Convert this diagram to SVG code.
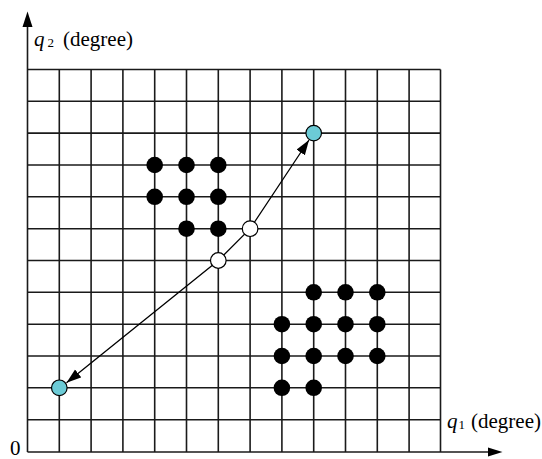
<svg xmlns="http://www.w3.org/2000/svg" width="542" height="459" viewBox="0 0 542 459">
<style>
.grid line{stroke:#1a1a1a;stroke-width:1.6}
.axis{stroke:#1a1a1a;stroke-width:1.6;fill:none}
.lbl{font-family:"Liberation Serif","Times New Roman",serif;font-size:21px;fill:#000}
.sub{font-family:"Liberation Serif","Times New Roman",serif;font-size:13px;fill:#000}
.blk{fill:#000}
.cyan{fill:#6ccbd6;stroke:#000;stroke-width:1.2}
.wht{fill:#fff;stroke:#000;stroke-width:1.2}
.conn{stroke:#000;stroke-width:1.3;fill:none}
</style>
<defs>
<marker id="ah" markerUnits="userSpaceOnUse" markerWidth="16" markerHeight="12" refX="15" refY="5" orient="auto-start-reverse">
<path d="M0,0 L15,5 L0,10 Z" fill="#000"/>
</marker>
</defs>
<rect width="542" height="459" fill="#fff"/>
<g class="grid">
<line x1="27.5" y1="69.5" x2="440.5" y2="69.5"/>
<line x1="27.5" y1="101.3" x2="440.5" y2="101.3"/>
<line x1="27.5" y1="133.1" x2="440.5" y2="133.1"/>
<line x1="27.5" y1="165" x2="440.5" y2="165"/>
<line x1="27.5" y1="196.8" x2="440.5" y2="196.8"/>
<line x1="27.5" y1="228.7" x2="440.5" y2="228.7"/>
<line x1="27.5" y1="260.5" x2="440.5" y2="260.5"/>
<line x1="27.5" y1="292.3" x2="440.5" y2="292.3"/>
<line x1="27.5" y1="324.2" x2="440.5" y2="324.2"/>
<line x1="27.5" y1="356" x2="440.5" y2="356"/>
<line x1="27.5" y1="387.8" x2="440.5" y2="387.8"/>
<line x1="27.5" y1="419.7" x2="440.5" y2="419.7"/>
<line x1="59.3" y1="69.5" x2="59.3" y2="452"/>
<line x1="91.1" y1="69.5" x2="91.1" y2="452"/>
<line x1="122.9" y1="69.5" x2="122.9" y2="452"/>
<line x1="154.7" y1="69.5" x2="154.7" y2="452"/>
<line x1="186.5" y1="69.5" x2="186.5" y2="452"/>
<line x1="218.3" y1="69.5" x2="218.3" y2="452"/>
<line x1="250.1" y1="69.5" x2="250.1" y2="452"/>
<line x1="281.9" y1="69.5" x2="281.9" y2="452"/>
<line x1="313.7" y1="69.5" x2="313.7" y2="452"/>
<line x1="345.5" y1="69.5" x2="345.5" y2="452"/>
<line x1="377.3" y1="69.5" x2="377.3" y2="452"/>
<line x1="409.1" y1="69.5" x2="409.1" y2="452"/>
<line x1="440.5" y1="69.5" x2="440.5" y2="452"/>
</g>
<g id="axes">
<path class="axis" d="M27.5,452 L27.5,26"/>
<path d="M22.5,27 L27.5,11.5 L32.5,27 Z" fill="#000"/>
<path class="axis" d="M27.5,452 L489,452"/>
<path d="M488,447.5 L502.5,452 L488,456.5 Z" fill="#000"/>
</g>
<g id="labels">
<text class="lbl" x="34" y="46" font-style="italic">q</text>
<text class="sub" x="47.5" y="47">2</text>
<text class="lbl" x="63" y="46">(degree)</text>
<text class="lbl" x="447" y="428" font-style="italic">q</text>
<text class="sub" x="458.5" y="429">1</text>
<text class="lbl" x="471" y="428">(degree)</text>
<text class="lbl" x="10" y="455" font-size="16">0</text>
</g>
<g id="connectors">
<path class="conn" d="M66.5,382.8 L218.3,260.5 L250.1,228.7 L309,140" marker-start="url(#ah)" marker-end="url(#ah)"/>
</g>
<g id="obstacle-1">
<circle class="blk" cx="154.7" cy="165" r="8.3"/>
<circle class="blk" cx="186.5" cy="165" r="8.3"/>
<circle class="blk" cx="218.3" cy="165" r="8.3"/>
<circle class="blk" cx="154.7" cy="196.8" r="8.3"/>
<circle class="blk" cx="186.5" cy="196.8" r="8.3"/>
<circle class="blk" cx="218.3" cy="196.8" r="8.3"/>
<circle class="blk" cx="186.5" cy="228.7" r="8.3"/>
<circle class="blk" cx="218.3" cy="228.7" r="8.3"/>
</g>
<g id="obstacle-2">
<circle class="blk" cx="313.7" cy="292.3" r="8.3"/>
<circle class="blk" cx="345.5" cy="292.3" r="8.3"/>
<circle class="blk" cx="377.3" cy="292.3" r="8.3"/>
<circle class="blk" cx="281.9" cy="324.2" r="8.3"/>
<circle class="blk" cx="313.7" cy="324.2" r="8.3"/>
<circle class="blk" cx="345.5" cy="324.2" r="8.3"/>
<circle class="blk" cx="377.3" cy="324.2" r="8.3"/>
<circle class="blk" cx="281.9" cy="356" r="8.3"/>
<circle class="blk" cx="313.7" cy="356" r="8.3"/>
<circle class="blk" cx="345.5" cy="356" r="8.3"/>
<circle class="blk" cx="377.3" cy="356" r="8.3"/>
<circle class="blk" cx="281.9" cy="387.8" r="8.3"/>
<circle class="blk" cx="313.7" cy="387.8" r="8.3"/>
</g>
<g id="start"><circle class="cyan" cx="59.3" cy="387.8" r="7.8"/></g>
<g id="goal"><circle class="cyan" cx="313.7" cy="133.1" r="7.8"/></g>
<g id="via-1"><circle class="wht" cx="218.3" cy="260.5" r="7.8"/></g>
<g id="via-2"><circle class="wht" cx="250.1" cy="228.7" r="7.8"/></g>
</svg>
